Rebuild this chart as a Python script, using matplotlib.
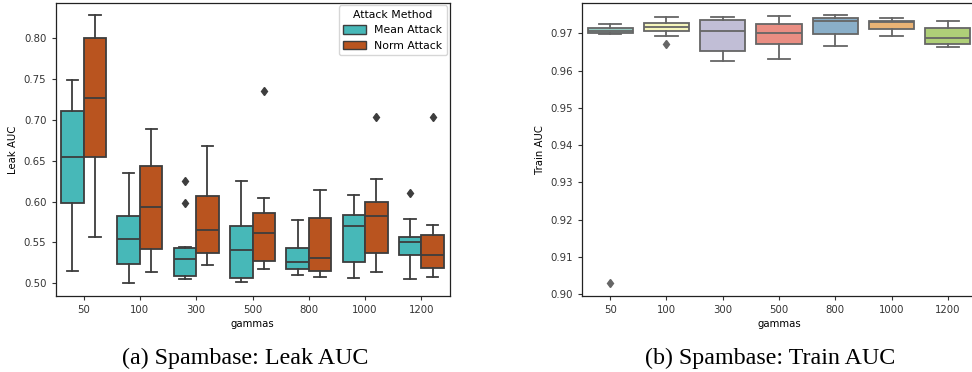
import colorsys
import matplotlib
matplotlib.use("Agg")
import matplotlib.pyplot as plt
import matplotlib.colors as mcolors
from matplotlib.patches import Patch

# --- data ---
gammas = ["50", "100", "300", "500", "800", "1000", "1200"]
methods = ["Mean Attack", "Norm Attack"]

# Leak AUC, one list per attack method: whisker low, q1, median, q3, whisker high
leak_mean_lo = [0.515, 0.501, 0.5056, 0.5016, 0.5097, 0.5065, 0.5056]
leak_mean_q1 = [0.598, 0.524, 0.509, 0.5068, 0.5178, 0.5257, 0.5342]
leak_mean_med = [0.654, 0.554, 0.5293, 0.5407, 0.526, 0.5704, 0.550]
leak_mean_q3 = [0.7105, 0.5826, 0.5428, 0.5696, 0.5431, 0.5838, 0.5569]
leak_mean_hi = [0.749, 0.635, 0.5443, 0.625, 0.5773, 0.6075, 0.5782]
leak_mean_fliers = [[], [], [0.6246, 0.5985], [], [], [], [0.6107]]

leak_norm_lo = [0.557, 0.514, 0.522, 0.517, 0.5073, 0.5144, 0.5073]
leak_norm_q1 = [0.655, 0.5415, 0.537, 0.5269, 0.5154, 0.5366, 0.5182]
leak_norm_med = [0.726, 0.593, 0.5655, 0.5618, 0.5309, 0.5822, 0.5342]
leak_norm_q3 = [0.800, 0.6437, 0.607, 0.5855, 0.5794, 0.599, 0.5586]
leak_norm_hi = [0.828, 0.689, 0.668, 0.6042, 0.6143, 0.627, 0.5712]
leak_norm_fliers = [[], [], [], [0.7353], [], [0.7031], [0.7031]]

# Train AUC
train_lo = [0.9698, 0.96936, 0.96257, 0.96319, 0.96667, 0.96928, 0.9664]
train_q1 = [0.9700, 0.9707, 0.96517, 0.96713, 0.96981, 0.97115, 0.96713]
train_med = [0.9707, 0.97169, 0.9707, 0.97008, 0.97338, 0.97295, 0.96882]
train_q3 = [0.97142, 0.97268, 0.97349, 0.97258, 0.9741, 0.9733, 0.9715]
train_hi = [0.97258, 0.97437, 0.97437, 0.97464, 0.97499, 0.97418, 0.9733]
train_fliers = [[0.90303], [0.96713], [], [], [], [], []]


def desat(c, prop=0.75):
    r, g, b = mcolors.to_rgb(c)
    h, l, s = colorsys.rgb_to_hls(r, g, b)
    return colorsys.hls_to_rgb(h, l, s * prop)


def stats(lo, q1, med, q3, hi, fl):
    return [dict(whislo=a, q1=b, med=c, q3=d, whishi=e, fliers=f)
            for a, b, c, d, e, f in zip(lo, q1, med, q3, hi, fl)]


def draw(ax, st, pos, width, colors, edge):
    lw = 1.3
    bp = ax.bxp(st, positions=pos, widths=width, patch_artist=True,
                showfliers=True, manage_ticks=False,
                boxprops=dict(edgecolor=edge, linewidth=lw),
                medianprops=dict(color=edge, linewidth=lw),
                whiskerprops=dict(color=edge, linewidth=lw),
                capprops=dict(color=edge, linewidth=lw),
                flierprops=dict(marker="d", markerfacecolor=edge,
                                markeredgecolor=edge, markersize=4.5))
    for patch, c in zip(bp["boxes"], colors):
        patch.set_facecolor(c)


plt.rcParams["font.family"] = "DejaVu Sans"
fs = 7.3
fig = plt.figure(figsize=(9.72, 3.72), dpi=100)
W, H = 972, 372
ax1 = fig.add_axes([55.5 / W, 76 / H, 394 / W, 293.3 / H])
ax2 = fig.add_axes([582 / W, 76 / H, 394 / W, 293.3 / H])

x = list(range(len(gammas)))
teal = "#47b8b8"
rust = "#b9541f"
edge1 = "#3d3d3d"
draw(ax1, stats(leak_mean_lo, leak_mean_q1, leak_mean_med, leak_mean_q3,
                leak_mean_hi, leak_mean_fliers),
     [i - 0.2 for i in x], 0.4, [teal] * len(x), edge1)
draw(ax1, stats(leak_norm_lo, leak_norm_q1, leak_norm_med, leak_norm_q3,
                leak_norm_hi, leak_norm_fliers),
     [i + 0.2 for i in x], 0.4, [rust] * len(x), edge1)
ax1.set_xlim(-0.5, len(x) - 0.5)
ax1.set_ylim(0.4845, 0.843)
ax1.set_yticks([0.50, 0.55, 0.60, 0.65, 0.70, 0.75, 0.80])
ax1.set_yticklabels([f"{v:.2f}" for v in ax1.get_yticks()])
ax1.set_xticks(x)
ax1.set_xticklabels(gammas)
ax1.set_xlabel("gammas", fontsize=fs, labelpad=3)
ax1.set_ylabel("Leak AUC", fontsize=fs, labelpad=4)
leg = ax1.legend(handles=[Patch(facecolor=teal, edgecolor=edge1, label=methods[0]),
                          Patch(facecolor=rust, edgecolor=edge1, label=methods[1])],
                 title="Attack Method", loc="upper right", fontsize=7.8,
                 title_fontsize=7.8, handlelength=2.1, handleheight=0.8,
                 labelspacing=0.5, borderaxespad=0.25)

set3 = ["#8dd3c7", "#ffffb3", "#bebada", "#fb8072", "#80b1d3", "#fdb462", "#b3de69"]
edge2 = "#666666"
draw(ax2, stats(train_lo, train_q1, train_med, train_q3, train_hi, train_fliers),
     x, 0.8, [desat(c) for c in set3], edge2)
ax2.set_xlim(-0.5, len(x) - 0.5)
ax2.set_ylim(0.8995, 0.9782)
ax2.set_yticks([0.90, 0.91, 0.92, 0.93, 0.94, 0.95, 0.96, 0.97])
ax2.set_yticklabels([f"{v:.2f}" for v in ax2.get_yticks()])
ax2.set_xticks(x)
ax2.set_xticklabels(gammas)
ax2.set_xlabel("gammas", fontsize=fs, labelpad=3)
ax2.set_ylabel("Train AUC", fontsize=fs, labelpad=4)

for ax in (ax1, ax2):
    ax.tick_params(labelsize=fs, length=3, width=0.8, colors="#333333")
    for s in ax.spines.values():
        s.set_linewidth(0.9)
        s.set_color("#222222")

fig.text(245.5 / W, 1 - 358 / H, "(a) Spambase: Leak AUC", ha="center", va="center",
         fontsize=17.3, family="Liberation Serif")
fig.text(770 / W, 1 - 358 / H, "(b) Spambase: Train AUC", ha="center", va="center",
         fontsize=17.3, family="Liberation Serif")

fig.savefig("out.png", dpi=100)
